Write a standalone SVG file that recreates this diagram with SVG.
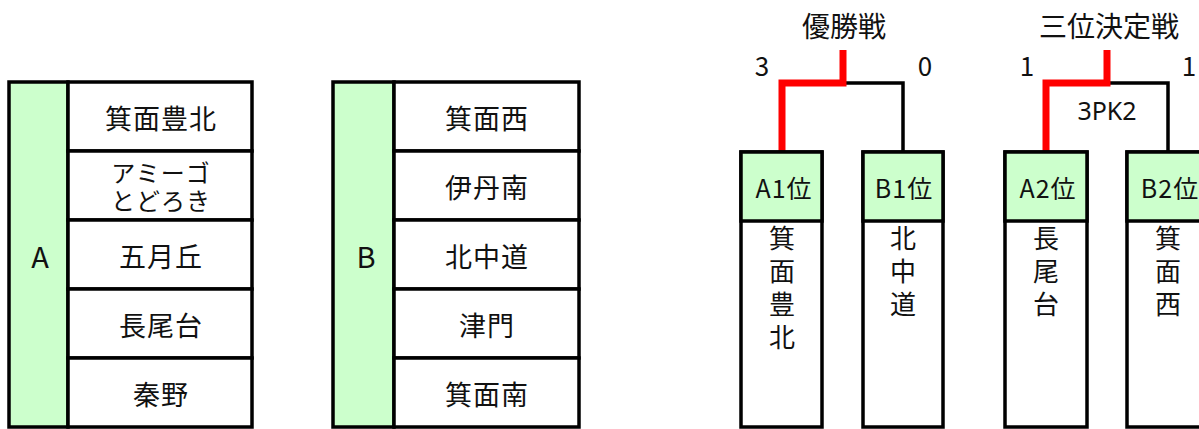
<svg xmlns="http://www.w3.org/2000/svg" width="1199" height="429" viewBox="0 0 1199 429">
<style>
.t{font-family:"Noto Sans CJK JP","Noto Sans",sans-serif;fill:#111;text-anchor:middle;dominant-baseline:central}
.v{font-family:"Noto Sans CJK JP",sans-serif;fill:#111;font-size:26px;writing-mode:vertical-rl;text-anchor:start;letter-spacing:7px}
.cell{fill:#fff;stroke:#000;stroke-width:3.5}
.grn{fill:#ccffcc;stroke:#000;stroke-width:3.5}
.red{fill:none;stroke:#ff0000;stroke-width:7}
.blk{fill:none;stroke:#000;stroke-width:3.5}
</style>
<rect width="1199" height="429" fill="#fff"/>
<g id="groupA">
<rect class="grn" x="9" y="82" width="59" height="345"/>
<rect class="cell" x="68" y="82" width="184" height="69"/>
<rect class="cell" x="68" y="151" width="184" height="69"/>
<rect class="cell" x="68" y="220" width="184" height="69"/>
<rect class="cell" x="68" y="289" width="184" height="69"/>
<rect class="cell" x="68" y="358" width="184" height="69"/>
<text class="t" x="40" y="255" font-size="29">A</text>
<text class="t" x="161" y="117" font-size="27" letter-spacing="1">箕面豊北</text>
<text class="t" x="161" y="171" font-size="24" letter-spacing="1"><tspan x="161" y="171">アミーゴ</tspan><tspan x="161" y="199">とどろき</tspan></text>
<text class="t" x="161" y="255" font-size="27" letter-spacing="1">五月丘</text>
<text class="t" x="161" y="324" font-size="27" letter-spacing="1">長尾台</text>
<text class="t" x="161" y="393" font-size="27" letter-spacing="1">秦野</text>
</g>
<g id="groupB">
<rect class="grn" x="333" y="82" width="61" height="345"/>
<rect class="cell" x="394" y="82" width="185" height="69"/>
<rect class="cell" x="394" y="151" width="185" height="69"/>
<rect class="cell" x="394" y="220" width="185" height="69"/>
<rect class="cell" x="394" y="289" width="185" height="69"/>
<rect class="cell" x="394" y="358" width="185" height="69"/>
<text class="t" x="366" y="255" font-size="29">B</text>
<text class="t" x="487" y="117" font-size="27" letter-spacing="1">箕面西</text>
<text class="t" x="487" y="186" font-size="27" letter-spacing="1">伊丹南</text>
<text class="t" x="487" y="255" font-size="27" letter-spacing="1">北中道</text>
<text class="t" x="487" y="324" font-size="27" letter-spacing="1">津門</text>
<text class="t" x="487" y="393" font-size="27" letter-spacing="1">箕面南</text>
</g>
<g id="connectors">
<polyline class="blk" points="843,83 903,83 903,152"/>
<polyline class="red" points="782,152 782,83 843,83 843,50"/>
<polyline class="blk" points="1107,83 1168,83 1168,152"/>
<polyline class="red" points="1046,152 1046,83 1107,83 1107,50"/>
</g>
<g id="labels">
<text class="t" x="844" y="25" font-size="28">優勝戦</text>
<text class="t" x="1109" y="25" font-size="28">三位決定戦</text>
<text class="t" x="762" y="64" font-size="26">3</text>
<text class="t" x="925" y="64" font-size="26">0</text>
<text class="t" x="1027" y="64" font-size="26">1</text>
<text class="t" x="1189" y="64" font-size="26">1</text>
<text class="t" x="1107" y="110" font-size="25" style="font-family:'Noto Sans',sans-serif">3PK2</text>
</g>
<g id="A1">
<rect class="cell" x="741" y="152" width="81" height="275"/>
<rect class="grn" x="741" y="152" width="81" height="69"/>
<text class="t" x="784" y="187" font-size="25" letter-spacing="1">A1位</text>
<text class="v" x="782" y="225">箕面豊北</text>
</g>
<g id="B1">
<rect class="cell" x="863" y="152" width="80" height="275"/>
<rect class="grn" x="863" y="152" width="80" height="69"/>
<text class="t" x="904" y="187" font-size="25" letter-spacing="1">B1位</text>
<text class="v" x="903" y="225">北中道</text>
</g>
<g id="A2">
<rect class="cell" x="1005" y="152" width="82" height="275"/>
<rect class="grn" x="1005" y="152" width="82" height="69"/>
<text class="t" x="1048" y="187" font-size="25" letter-spacing="1">A2位</text>
<text class="v" x="1046" y="225">長尾台</text>
</g>
<g id="B2">
<rect class="cell" x="1127" y="152" width="82" height="275"/>
<rect class="grn" x="1127" y="152" width="82" height="69"/>
<text class="t" x="1170" y="187" font-size="25" letter-spacing="1">B2位</text>
<text class="v" x="1168" y="225">箕面西</text>
</g>
</svg>
